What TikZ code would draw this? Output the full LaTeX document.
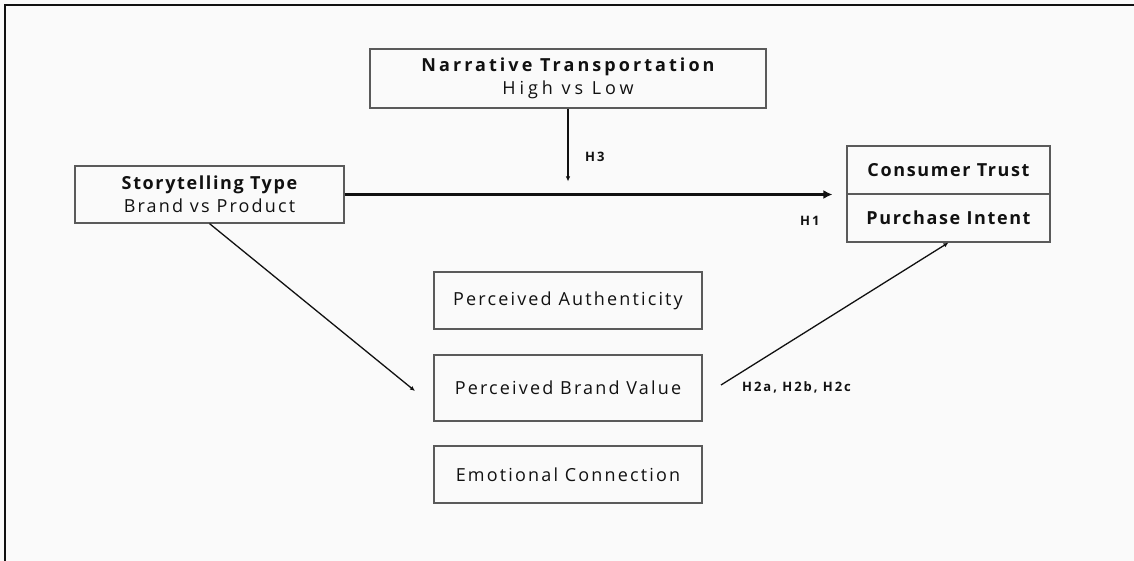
\documentclass[tikz,border=0pt]{standalone}
\usepackage{fontspec}
\setmainfont{Open Sans}
\newfontfamily\widefont[LetterSpace=17]{Open Sans}
\newfontfamily\widerfont[LetterSpace=22]{Open Sans}
\newfontfamily\spacedfont[LetterSpace=12]{Open Sans}
\newfontfamily\boldfont[LetterSpace=9]{Open Sans}
\newfontfamily\hypfont[LetterSpace=15]{Open Sans}
\usetikzlibrary{arrows.meta}
\definecolor{bg}{HTML}{FAFAFA}
\definecolor{boxgray}{HTML}{5A5A5A}
\definecolor{ink}{HTML}{111111}

\begin{document}
\begin{tikzpicture}[x=1pt, y=-1pt]

\tikzset{box/.style = {shape=rectangle, draw=boxgray, line width=1.2pt, inner sep=0pt, align=center, text=ink, font=\spacedfont\fontsize{18}{23}\selectfont}}
\tikzset{edge/.style = {->, > = {Latex[length=5pt, width=4.5pt]}, line width=1.3pt, draw=ink}}
\tikzset{hyp/.style = {inner sep=0pt, text=ink, font=\hypfont\bfseries\fontsize{13}{15}\selectfont}}
%frame
\fill[bg] (0,0) rectangle (1134,561);
\useasboundingbox (0,0) rectangle (1134,561);
\draw[line width=2pt, ink] (5,561) -- (5,5) -- (1134,5);
%verticies
\node[box, minimum width=396pt, minimum height=59pt] (nt) at (568,78.5) {{\widefont\bfseries Narrative Transportation}\\{\widerfont High vs Low}};
\node[box, minimum width=269pt, minimum height=57pt] (st) at (209.5,194.5) {{\boldfont\bfseries Storytelling Type}\\Brand vs Product};
\node[box, minimum width=203pt, minimum height=48pt] (ct) at (948.5,170) {\boldfont\bfseries Consumer Trust};
\node[box, minimum width=203pt, minimum height=48pt] (pi) at (948.5,218) {\boldfont\bfseries Purchase Intent};
\node[box, minimum width=268pt, minimum height=57pt] (pa) at (568,300.5) {Perceived Authenticity};
\node[box, minimum width=268pt, minimum height=66pt] (bv) at (568,388) {Perceived Brand Value};
\node[box, minimum width=268pt, minimum height=57pt] (ec) at (568,474.5) {Emotional Connection};
\coordinate (bvin) at (415,391);
\coordinate (bvout) at (721,385);
%labels
\node[hyp, anchor=west] (h3) at (585,157) {H3};
\node[hyp, anchor=west] (h1) at (800,221) {H1};
\node[hyp, anchor=base west] (h2) at (742,391) {H2a, H2b, H2c};
%edges
\draw[edge, line width=2.2pt, > = {Latex[length=9pt, width=9pt]}, shorten >=14pt] (st.east) -- (st.east -| ct.west);
\draw[edge, shorten >=13pt] (nt.south) -- (nt.south |- st.east);
\draw[edge] (st.south) -- (bvin);
\draw[edge] (bvout) -- (pi.south);

\end{tikzpicture}
\end{document}
